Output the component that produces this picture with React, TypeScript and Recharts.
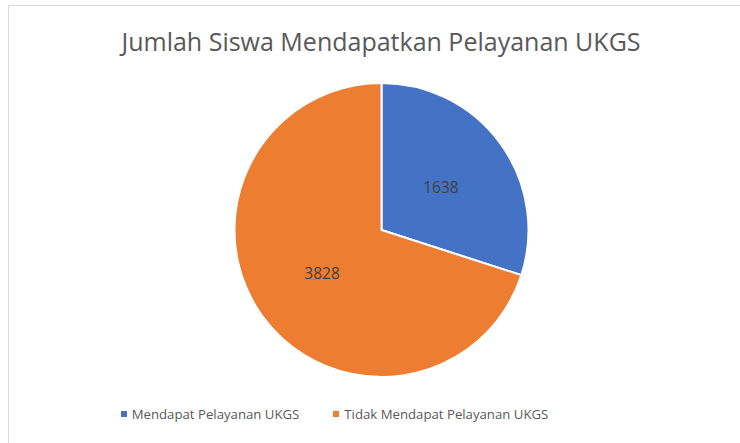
import { Cell, Legend, Pie, PieChart } from 'recharts';

const categories = ['Mendapat Pelayanan UKGS', 'Tidak Mendapat Pelayanan UKGS'];
const values = [1638, 3828];
const colors = ['#4472C4', '#ED7D31'];
const title = 'Jumlah Siswa Mendapatkan Pelayanan UKGS';

const data = categories.map((name, i) => ({ name, value: values[i] }));

const FONT = '"Open Sans", "Noto Sans", sans-serif';
const RADIAN = Math.PI / 180;

function renderLabel(props: any) {
  const { cx, cy, midAngle, outerRadius, value } = props;
  const r = outerRadius * 0.5;
  const x = cx + r * Math.cos(-midAngle * RADIAN);
  const y = cy + r * Math.sin(-midAngle * RADIAN);
  return (
    <text x={x} y={y} fill="#404040" fontSize={15.5} fontFamily={FONT} textAnchor="middle" dominantBaseline="central">
      {value}
    </text>
  );
}

function renderLegend() {
  return (
    <div style={{ display: 'flex', justifyContent: 'center', fontFamily: FONT, fontSize: 13.2, color: '#595959' }}>
      {categories.map((c, i) => (
        <div key={c} style={{ display: 'flex', alignItems: 'center', marginRight: i === 0 ? 34 : 0 }}>
          <span style={{ display: 'inline-block', width: 6, height: 6, background: colors[i], marginRight: 5 }} />
          <span>{c}</span>
        </div>
      ))}
    </div>
  );
}

export default function App() {
  return (
    <div style={{ position: 'absolute', left: 0, top: 0, width: 740, height: 443, background: '#fff', overflow: 'hidden' }}>
      <div style={{ position: 'absolute', left: 8, top: 5, width: 760, height: 460, border: '1px solid #d9d9d9', boxSizing: 'border-box' }} />
      <div style={{ position: 'absolute', left: 0, top: 24, width: 762, textAlign: 'center', fontFamily: FONT, fontSize: 25, color: '#595959' }}>
        {title}
      </div>
      <div style={{ position: 'absolute', left: 0, top: 0 }}>
        <PieChart width={762} height={443}>
          <Pie
            data={data}
            dataKey="value"
            nameKey="name"
            cx={376.5}
            cy={225}
            outerRadius={147}
            startAngle={90}
            endAngle={-270}
            stroke="#fff"
            strokeWidth={2}
            label={renderLabel}
            labelLine={false}
            isAnimationActive={false}
          >
            {data.map((d, i) => (
              <Cell key={d.name} fill={colors[i]} />
            ))}
          </Pie>
          <Legend content={renderLegend} wrapperStyle={{ top: 405, left: 0, width: 669 }} />
        </PieChart>
      </div>
    </div>
  );
}
